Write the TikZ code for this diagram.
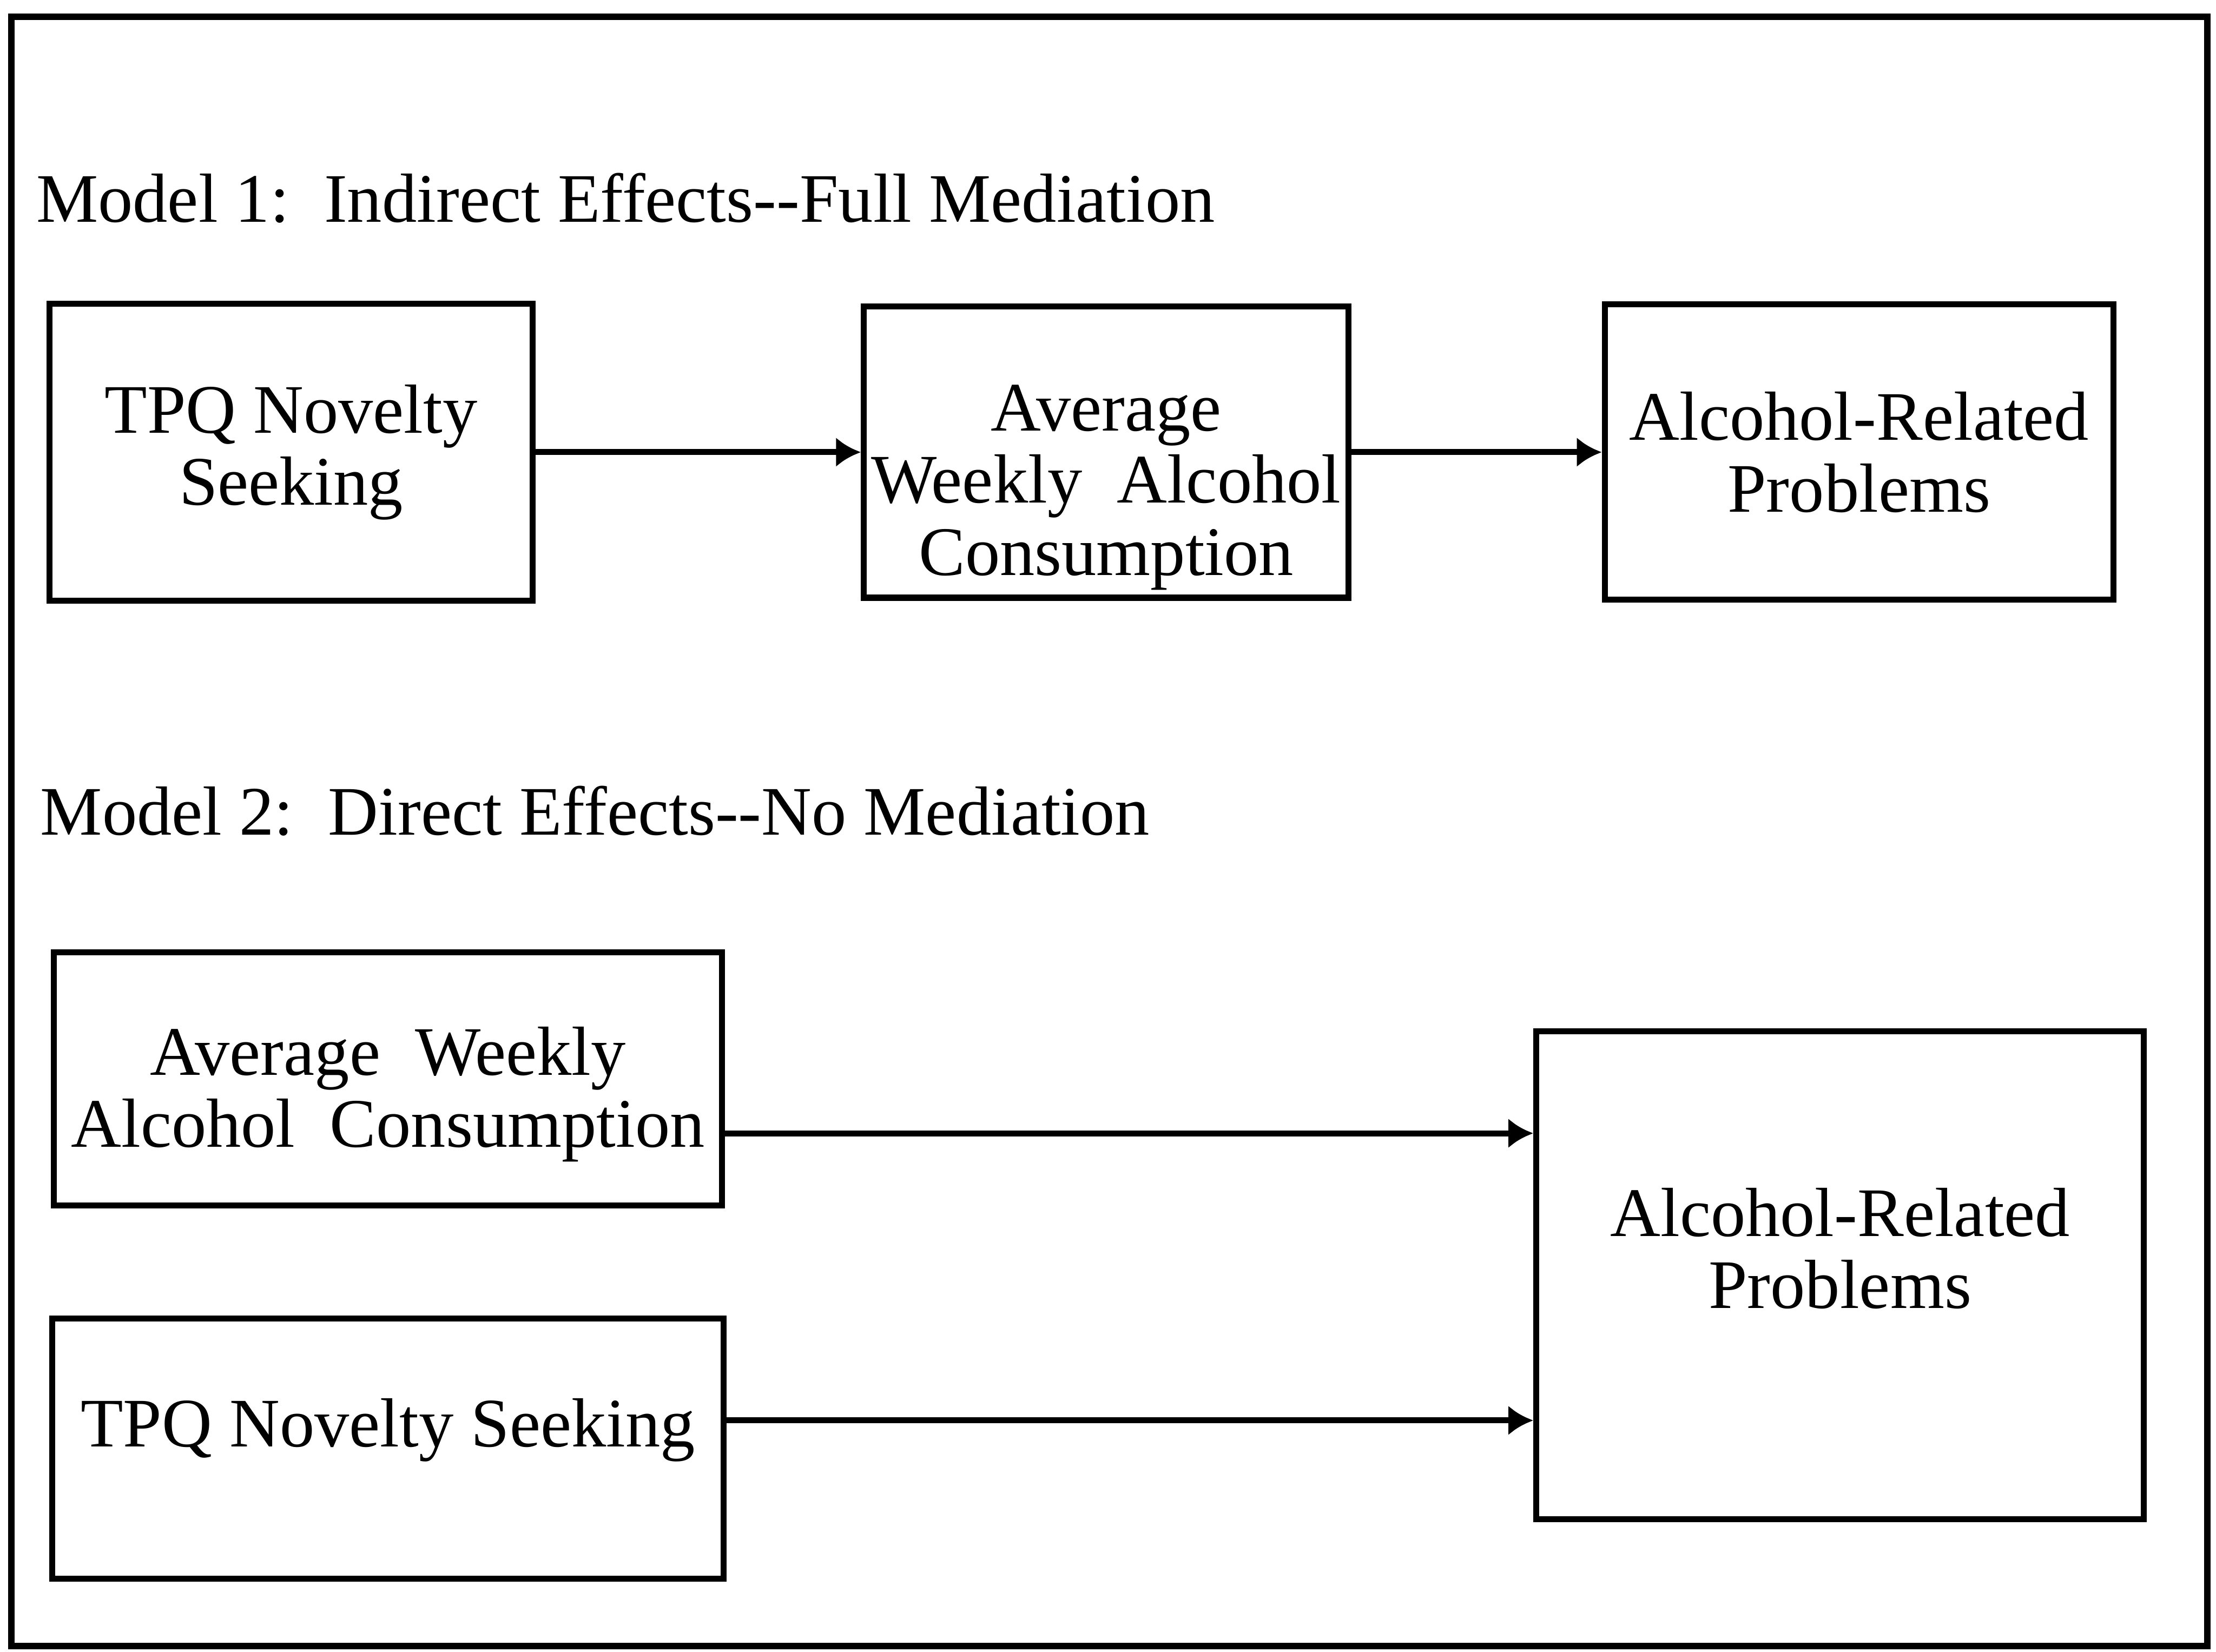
\documentclass[tikz,border=0pt]{standalone}
\usepackage{fontspec}
\setmainfont{Liberation Serif}
\usepackage{tikz}
\usetikzlibrary{positioning, arrows.meta}

\begin{document}
\begin{tikzpicture}[
    block/.style={rectangle, draw, line width=1.2pt, inner sep=0pt},
    blocktext/.style={align=center, font=\fontsize{14}{14.5}\selectfont, inner sep=0pt},
    title/.style={anchor=base west, font=\fontsize{14}{17}\selectfont, inner sep=0pt},
    line/.style={draw, line width=1.2pt, -{Latex[length=5pt,width=6pt]}}
]
\useasboundingbox (0,0) rectangle (15.68,-11.69);
\draw [line width=1.3pt] (0.08,-0.12) rectangle (15.62,-11.65);

% Model 1
\node [title] (head1) at (0.25,-1.57) {Model 1:\ \ Indirect Effects-{}-Full Mediation};

\node [block, minimum width=3.42cm, minimum height=2.10cm] (nov1) at (2.06,-3.20) {};
\node [block, minimum width=3.43cm, minimum height=2.06cm, right=2.30cm of nov1] (avg1) {};
\node [block, minimum width=3.60cm, minimum height=2.09cm, right=1.77cm of avg1] (prob1) {};

\node [blocktext] (nov1t) at (nov1) {TPQ Novelty\\Seeking};
\node [blocktext, yshift=-0.25cm] (avg1t) at (avg1) {Average\\Weekly\ \ Alcohol\\Consumption};
\node [blocktext] (prob1t) at (prob1) {Alcohol-Related\\Problems};

\path [line] (nov1.east) -- (nov1.east -| avg1.west);
\path [line] (avg1.east) -- (avg1.east -| prob1.west);

% Model 2
\node [title] (head2) at (0.28,-5.91) {Model 2:\ \ Direct Effects-{}-No Mediation};

\node [block, minimum width=4.73cm, minimum height=1.79cm] (avg2) at (2.745,-7.635) {};
\node [block, minimum width=4.75cm, minimum height=1.84cm, below=0.76cm of avg2] (nov2) {};
\node [block, minimum width=4.30cm, minimum height=3.45cm] (prob2) at (13.02,-9.025) {};

\node [blocktext, yshift=-0.11cm] (avg2t) at (avg2) {Average\ \ Weekly\\Alcohol\ \ Consumption};
\node [blocktext, yshift=0.13cm] (nov2t) at (nov2) {TPQ Novelty Seeking};
\node [blocktext, yshift=0.19cm] (prob2t) at (prob2) {Alcohol-Related\\Problems};

\path [line] ([yshift=-0.385cm]avg2.east) -- ([yshift=-0.385cm]avg2.east -| prob2.west);
\path [line] ([yshift=0.20cm]nov2.east) -- ([yshift=0.20cm]nov2.east -| prob2.west);
\end{tikzpicture}
\end{document}
